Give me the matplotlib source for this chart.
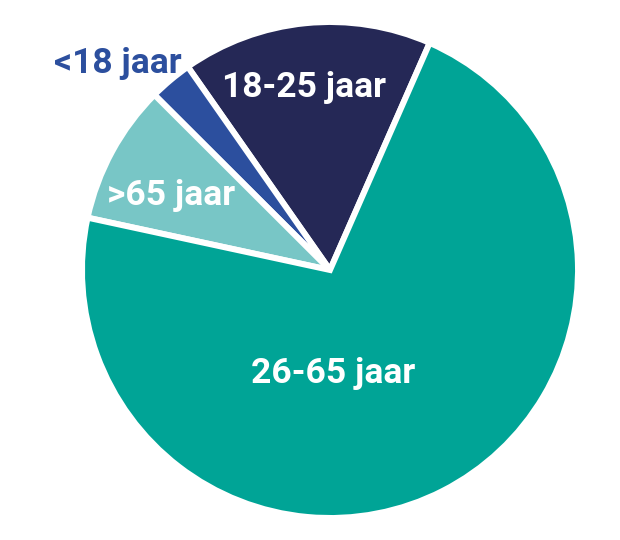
import matplotlib
matplotlib.use('Agg')
import matplotlib.pyplot as plt

labels = ['18-25 jaar', '<18 jaar', '>65 jaar', '26-65 jaar']
values = [16.3, 2.8, 9.1, 71.8]
colors = ['#252856', '#2C4F9E', '#78C6C6', '#00A496']

W, H = 620, 540
fig = plt.figure(figsize=(W / 100, H / 100), dpi=100)
ax = fig.add_axes([0, 0, 1, 1])

ax.pie(values, colors=colors, startangle=66.3, counterclock=True,
       center=(330, H - 270), radius=248, frame=True,
       wedgeprops=dict(edgecolor='white', linewidth=4.3))
ax.set_xlim(0, W)
ax.set_ylim(0, H)
ax.axis('off')

font = dict(family=['Roboto', 'DejaVu Sans'], fontstretch='condensed',
            fontweight='bold', fontsize=25.5, ha='center', va='center')
ax.text(304, H - 87, labels[0], color='white', **font)
ax.text(118, H - 63, labels[1], color='#2C4F9E', **font)
ax.text(171, H - 195, labels[2], color='white', **font)
ax.text(333, H - 373, labels[3], color='white', **font)

fig.savefig('out.png', dpi=100)
